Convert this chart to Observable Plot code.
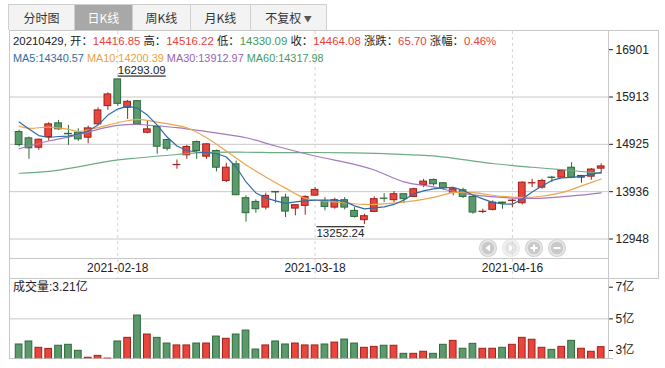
<!DOCTYPE html>
<html>
<head>
<meta charset="utf-8">
<script src="https://cdn.jsdelivr.net/npm/d3@7"></script>
<script src="https://cdn.jsdelivr.net/npm/@observablehq/plot@0.6"></script>
<style>
  html,body{margin:0;padding:0;background:#fff;}
  #wrap{position:relative;width:665px;height:368px;overflow:hidden;font-family:"Liberation Sans","Noto Sans CJK SC",sans-serif;color:#222;}
  .hl{position:absolute;height:1px;background:#c8c8c8;}
  .vl{position:absolute;width:1px;background:#c8c8c8;}
  .tab{position:absolute;top:0;height:25px;line-height:25px;text-align:center;font-size:12px;color:#333;border-right:1px solid #cfcfcf;font-family:"Noto Sans CJK SC","Liberation Sans",sans-serif;box-sizing:border-box;}
  .tab.sel{background:#a8a8a8;color:#fff;}
  .info{position:absolute;left:13px;font-size:11.4px;white-space:nowrap;line-height:14px;}
  .plotbox{position:absolute;left:0;}
</style>
</head>
<body>
<div id="wrap"></div>
<script>
// ---------- data ----------
const dates = ["2021-01-28","2021-01-29","2021-02-01","2021-02-02","2021-02-03","2021-02-04","2021-02-05","2021-02-08","2021-02-09","2021-02-10",
  "2021-02-18","2021-02-19","2021-02-22","2021-02-23","2021-02-24","2021-02-25","2021-02-26","2021-03-01","2021-03-02","2021-03-03",
  "2021-03-04","2021-03-05","2021-03-08","2021-03-09","2021-03-10","2021-03-11","2021-03-12","2021-03-15","2021-03-16","2021-03-17",
  "2021-03-18","2021-03-19","2021-03-22","2021-03-23","2021-03-24","2021-03-25","2021-03-26","2021-03-29","2021-03-30","2021-03-31",
  "2021-04-01","2021-04-02","2021-04-06","2021-04-07","2021-04-08","2021-04-09","2021-04-12","2021-04-13","2021-04-14","2021-04-15",
  "2021-04-16","2021-04-19","2021-04-20","2021-04-21","2021-04-22","2021-04-23","2021-04-26","2021-04-27","2021-04-28","2021-04-29"];
const open  = [15181,15050,14854,15077,15363,15145,15167,15063,15342,15723, 16280,15688,15827,15167,15286,15015,14490,14696,14973,14667,
  14785,14160,14508,13800,13722,13604,13931,13812,13583,13640, 13854,13743,13604,13758,13535,13341,13514,13792,13758,13883,
  13827,14077,14181,14112,13917,13966,13827,13512,13556,13708, 13743,13695,14109,14021,14230,14229,14437,14229,14250,14416.85];
const high  = [15223,15077,15035,15375,15425,15320,15250,15306,15688,16000, 16293.09,15842,15840,15411,15295,15029,14598,14904,14994,14937,
  14806,14529,14577,13848,13764,13904,13935,13883,13660,13848, 14021,13812,13800,13812,13604,13466,13827,13896,13938,13890,
  14008,14195,14202,14119,14021,14008,13848,13570,13743,13716, 13779,14140,14195,14195,14258,14379,14542,14275,14420,14516.22];
const low   = [14869,14612,14800,14994,15217,14904,14987,14937,15321,15634, 15723,15446,15330,15146,14717,14785,14404,14612,14612,14612,
  14348,14125,13858,13300,13487,13556,13695,13395,13431,13445, 13840,13535,13570,13556,13383,13252.24,13500,13708,13708,13688,
  13820,14021,14050,13967,13848,13792,13466,13479,13535,13570, 13604,13660,14021,13987,14125,14223,14208,14112,14175,14330.09];
const close = [14910,14842,15021,15342,15238,15135,15029,15258,15634,15967, 15771,15813,15342,15238,14875,14833,14495,14869,14785,14925,
  14437,14437,13862,13487,13570,13848,13920,13521,13654,13827, 13973,13618,13758,13604,13410,13424,13779,13787,13883,13779,
  13987,14146,14091,14008,13987,13827,13500,13518,13708,13688, 13750,14125,14114,14160,14222,14369,14229,14264,14398.38,14464.08];
const volume = [3.38,3.57,3.17,3.10,3.30,3.36,2.98,2.54,2.66,2.49, 3.57,3.80,5.21,4.01,3.80,3.44,3.32,3.32,3.44,3.44,
  3.88,3.74,4.01,4.26,3.06,3.32,3.57,3.38,3.44,3.32, 3.32,3.38,3.50,3.69,3.44,3.17,3.23,3.30,3.30,2.79,
  2.79,2.92,2.79,3.36,3.61,3.11,3.42,3.11,3.11,3.17, 3.36,3.80,3.68,3.17,3.04,3.23,3.61,3.11,2.92,3.21];
const ma5 = [15390,15244,15108,15067,15088,15098,15140,15202,15327,15536, 15661,15723,15681,15536,15327,15077,14890,14796,14765,14750,
  14733,14660,14452,14139,13910,13806,13743,13691,13723,13743, 13758,13758,13758,13733,13639,13577,13598,13618,13670,13764,
  13889,13952,13993,14014,14029,13962,13868,13785,13712,13681, 13675,13785,13931,14056,14171,14223,14233,14254,14296,14340.57];
// smoother averages read at selected days (index into dates)
const ma10At = [0,1,3,5,6,8,10,12,14,17,19,21,23,25,27,29,32,35,37,40,42,44,46,49,52,55,57,59];
const ma10   = [15306,15260,15285,15238,15192,15275,15375,15446,15390,15271,15063,14785,14494,14244,14010,13800,13723,13670,13681,13743,13816,13916,13916,13837,13820,13916,14056,14200.39];
const ma30At = [0,3,5,7,8,10,12,13,16,19,23,26,30,34,36,39,42,45,49,52,56,59];
const ma30   = [14833,14994,15077,15180,15238,15321,15342,15327,15275,15192,15063,14890,14681,14508,14389,14140,14035,13900,13816,13795,13848,13912.97];
const ma60At = [0,3,6,9,12,16,19,23,26,30,34,38,42,45,48,52,55,59];
const ma60   = [14321,14360,14455,14570,14640,14712,14755,14760,14752,14754,14745,14722,14682,14605,14525,14446,14395,14317.98];
const priceTicks = [16901,15913,14925,13936,12948];
const volumeTicks = [7,5,3];
const dateTicks = ["2021-02-18","2021-03-18","2021-04-16"];
const tabNames = ["分时图","日K线","周K线","月K线","不复权"];

// ---------- styles ----------
const RED="#e8463d", RED_D="#a11f1a", GREEN="#5c9a6d", GREEN_D="#2c6a38";
const C_MA5="#2f6ca4", C_MA10="#eba64c", C_MA30="#a679bd", C_MA60="#6dab80";
const T_RED="#e8413a", T_GREEN="#3f9a62", T_MA30="#9a5fb5", T_MA10="#e89f3f", T_MA60="#3f9a64";
const FONT='"Liberation Sans","Noto Sans CJK SC",sans-serif';

const candles = dates.map((date,k)=>({date, open:open[k], high:high[k], low:low[k], close:close[k], vol:volume[k], up: close[k] >= open[k]}));
const series = (at, vals) => at.map((k,j)=>({date: dates[k], v: vals[j]}));
const ma5Data = dates.map((date,k)=>({date, v: ma5[k]}));

const wrap = document.getElementById("wrap");
function addDiv(cls, css, html){ const d=document.createElement("div"); d.className=cls; d.style.cssText=css; if(html!==undefined) d.innerHTML=html; wrap.appendChild(d); return d; }

// frame lines
addDiv("hl","left:9px;top:30px;width:650px;");
addDiv("vl","left:9px;top:30px;height:329px;");
addDiv("vl","left:608px;top:30px;height:329px;");
addDiv("vl","left:658px;top:30px;height:248px;");
addDiv("hl","left:9px;top:258px;width:600px;");
addDiv("hl","left:9px;top:278px;width:650px;");
addDiv("hl","left:9px;top:358px;width:604px;");

// tabs
const tabs = addDiv("","position:absolute;left:8px;top:4px;height:25px;width:317px;border:1px solid #cfcfcf;border-bottom:none;background:#f3f3f3;");
const tabEdges = [0,66,124,182,242,317];
tabNames.forEach((t,i)=>{
  const d=document.createElement("div");
  d.className = "tab" + (i===1 ? " sel" : "");
  d.style.left = tabEdges[i]+"px";
  d.style.width = (tabEdges[i+1]-tabEdges[i])+"px";
  if (i===tabNames.length-1) { d.style.borderRight="none"; d.innerHTML = t + ' <span style="font-size:8px;color:#555;vertical-align:1px">▼</span>'; }
  else d.textContent = t;
  tabs.appendChild(d);
});

const xBand = {type:"band", domain: dates, range:[13.67,605.63], paddingInner:0.32, paddingOuter:0.16};
const maxK = d3.maxIndex(candles, d=>d.high);
const minK = d3.minIndex(candles, d=>d.low);

const price = Plot.plot({
  width:665, height:247, marginTop:0, marginBottom:19.7, marginLeft:10, marginRight:57,
  style:{fontFamily:FONT, fontSize:"12px", color:"#222", background:"transparent"},
  x:{...xBand, ticks: dateTicks, tickSize:0, tickPadding:5, label:null},
  y:{domain:[12948,16901], range:[207.5,18.2], axis:"right", ticks: priceTicks, tickSize:4, tickPadding:3, tickFormat:d=>String(d), label:null},
  color:{type:"identity"},
  marks:[
    Plot.ruleY(priceTicks.slice(1), {stroke:"#c8c8c8"}),
    Plot.ruleX(dateTicks, {stroke:"#d4d4d4", strokeDasharray:"3,3", insetBottom:-19.7}),
    Plot.ruleX(candles, {x:"date", y1:"low", y2:"high", stroke:d=>d.up?RED_D:GREEN_D}),
    Plot.barY(candles, {x:"date", y1:"open", y2:"close", fill:d=>d.up?RED:GREEN, stroke:d=>d.up?RED_D:GREEN_D, strokeWidth:1}),
    Plot.line(series(ma60At, ma60), {x:"date", y:"v", stroke:C_MA60, strokeWidth:1.2, curve:"catmull-rom"}),
    Plot.line(series(ma30At, ma30), {x:"date", y:"v", stroke:C_MA30, strokeWidth:1.2, curve:"catmull-rom"}),
    Plot.line(series(ma10At, ma10), {x:"date", y:"v", stroke:C_MA10, strokeWidth:1.2, curve:"catmull-rom"}),
    Plot.line(ma5Data, {x:"date", y:"v", stroke:C_MA5, strokeWidth:1.2}),
    Plot.text([candles[maxK]], {x:"date", y:"high", text:d=>d.high.toFixed(2), textAnchor:"start", dy:-8, fill:"#222", fontSize:11.5}),
    Plot.text([candles[minK]], {x:"date", y:"low", text:d=>d.low.toFixed(2), textAnchor:"end", dy:9, fill:"#222", fontSize:11.5})
  ]
});
const pbox = addDiv("plotbox","top:31px;");
pbox.appendChild(price);
price.querySelectorAll("text").forEach(t=>{
  if (t.textContent === candles[maxK].high.toFixed(2)) t.style.textDecoration = "underline";
  if (t.textContent === candles[minK].low.toFixed(2)) t.style.textDecoration = "overline";
});

const vol = Plot.plot({
  width:665, height:82, marginTop:0, marginBottom:1.7, marginLeft:10, marginRight:57,
  style:{fontFamily:FONT, fontSize:"12px", color:"#222", background:"transparent"},
  x:{...xBand, axis:null},
  y:{domain:[3,7], range:[72,8.7], axis:"right", ticks: volumeTicks, tickSize:4, tickPadding:3, tickFormat:d=>d+"亿", label:null},
  color:{type:"identity"},
  marks:[
    Plot.ruleY([5], {stroke:"#c8c8c8"}),
    Plot.barY(candles, {x:"date", y:"vol", fill:d=>d.up?RED:GREEN, stroke:d=>d.up?RED_D:GREEN_D, strokeWidth:1, clip:true})
  ]
});
const vbox = addDiv("plotbox","top:278px;");
vbox.appendChild(vol);

// info lines (values from the last day)
const n = candles.length - 1, last = candles[n];
const chg = last.close - candles[n-1].close;
const pct = chg / candles[n-1].close * 100;
const S = (c,t)=>`<span style="color:${c}">${t}</span>`;
const cOf = v => v >= 0 ? T_RED : T_GREEN;
addDiv("info","top:34px;",
  S("#222", last.date.replace(/-/g,"") + ", 开：") + S(last.open>=candles[n-1].close?T_RED:T_GREEN, last.open.toFixed(2)) +
  S("#222"," 高：") + S(T_RED, last.high.toFixed(2)) +
  S("#222"," 低：") + S(T_GREEN, last.low.toFixed(2)) +
  S("#222"," 收：") + S(cOf(chg), last.close.toFixed(2)) +
  S("#222"," 涨跌：") + S(cOf(chg), chg.toFixed(2)) +
  S("#222"," 涨幅：") + S(cOf(chg), pct.toFixed(2)+"%"));
addDiv("info","top:51px;font-size:10.9px;",
  S(C_MA5,"MA5:"+ma5[ma5.length-1].toFixed(2)) + " " +
  S(T_MA10,"MA10:"+ma10[ma10.length-1].toFixed(2)) + " " +
  S(T_MA30,"MA30:"+ma30[ma30.length-1].toFixed(2)) + " " +
  S(T_MA60,"MA60:"+ma60[ma60.length-1].toFixed(2)));
addDiv("info","top:280px;font-size:12px;", "成交量:" + last.vol.toFixed(2) + "亿");

// navigation buttons (UI chrome)
const btn = (cx, icon, op) => `<g opacity="${op}"><circle cx="${cx}" cy="10" r="8.5" fill="#e9e9e9" stroke="#d2d2d2" stroke-width="1.2"/><circle cx="${cx}" cy="10" r="6.3" fill="#c9c9c9"/>${icon(cx)}</g>`;
const left = cx => `<path d="M${cx+2},6.5 L${cx-2.5},10 L${cx+2},13.5 Z" fill="#fff"/>`;
const right = cx => `<path d="M${cx-2},6.5 L${cx+2.5},10 L${cx-2},13.5 Z" fill="#fff"/>`;
const plus = cx => `<rect x="${cx-3.5}" y="9" width="7" height="2" fill="#fff"/><rect x="${cx-1}" y="6.5" width="2" height="7" fill="#fff"/>`;
const minus = cx => `<rect x="${cx-3.5}" y="9" width="7" height="2" fill="#fff"/>`;
addDiv("","position:absolute;left:478px;top:238px;width:92px;height:20px;",
  `<svg width="92" height="20">${btn(10,left,1)}${btn(33,right,0.5)}${btn(56,plus,1)}${btn(79,minus,1)}</svg>`);
</script>
</body>
</html>
